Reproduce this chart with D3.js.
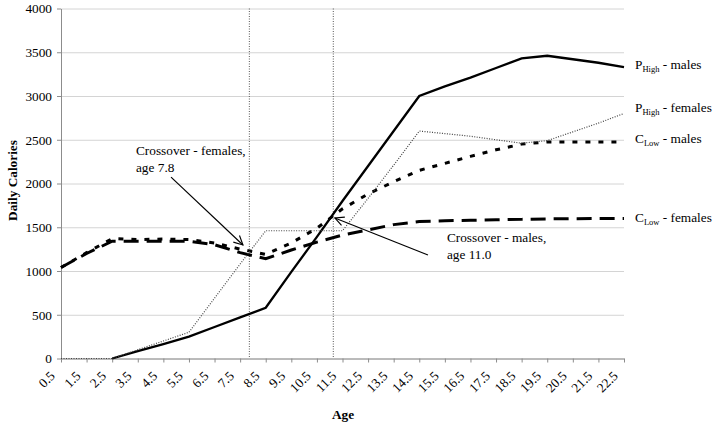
<!DOCTYPE html>
<html>
<head>
<meta charset="utf-8">
<script src="https://cdn.jsdelivr.net/npm/d3@7"></script>
<style>
  body { margin: 0; background: #fff; }
  svg text { font-family: "Liberation Serif", "Times New Roman", Times, serif; fill: #000; }
</style>
</head>
<body>
<svg width="716" height="424" font-family="Liberation Serif, Times New Roman, serif"></svg>
<script>
// Ages on the x axis (tick labels)
var ages = [0.5, 1.5, 2.5, 3.5, 4.5, 5.5, 6.5, 7.5, 8.5, 9.5, 10.5, 11.5,
            12.5, 13.5, 14.5, 15.5, 16.5, 17.5, 18.5, 19.5, 20.5, 21.5, 22.5];

// Daily calories, one value per age
var pHighMales   = [null, null, 0, 85, 165, 250, 360, 470, 580, 990, 1390, 1800,
                    2200, 2600, 3000, 3110, 3210, 3320, 3430, 3460, 3420, 3380, 3330];
var pHighFemales = [0, 0, 0, 100, 200, 300, 690, 1080, 1460, 1460, 1460, 1460,
                    1830, 2210, 2600, 2570, 2540, 2500, 2460, 2490, 2590, 2690, 2800];
var cLowMales    = [1040, 1210, 1370, 1360, 1365, 1360, 1320, 1250, 1190, 1320, 1490, 1710,
                    1880, 2020, 2150, 2230, 2310, 2385, 2450, 2475, 2475, 2475, 2475];
var cLowFemales  = [1040, 1200, 1340, 1340, 1340, 1340, 1300, 1210, 1140, 1240, 1330, 1410,
                    1470, 1530, 1565, 1575, 1580, 1585, 1590, 1595, 1598, 1600, 1600];

var yTicks = [0, 500, 1000, 1500, 2000, 2500, 3000, 3500, 4000];

// Crossover ages (vertical dotted lines)
var crossAges = [7.86, 11.14];

// Series labels at the right: main letter, subscript, rest, label height (calories)
var seriesNames = ["P", "P", "C", "C"];
var seriesSubs  = ["High", "High", "Low", "Low"];
var seriesRest  = [" - males", " - females", " - males", " - females"];
var labelValues = [3366, 2878, 2520, 1620];

// Callouts: text position and arrow tail/head in (age, calories)
var calloutLines = [["Crossover - females,", "age 7.8"], ["Crossover - males,", "age 11.0"]];
var calloutText  = [[3.43, 2323], [15.58, 1326]];
var calloutTail  = [[4.8, 2073], [14.84, 1183]];
var calloutHead  = [[7.61, 1297], [11.2, 1606]];

var FONT = "Liberation Serif, Times New Roman, serif";
var FS = "13.3px";

var svg = d3.select("svg"),
    margin = {top: 8.5, left: 61, right: 92, bottom: 65.5},
    width = +svg.attr("width") - margin.left - margin.right,
    height = +svg.attr("height") - margin.top - margin.bottom;

var g = svg.append("g").attr("transform", "translate(" + margin.left + "," + margin.top + ")");

var x = d3.scaleLinear().domain([0.5, 22.5]).range([0, width]);
var y = d3.scaleLinear().domain([0, 4000]).range([height, 0]);

// gridlines
g.append("g")
    .call(d3.axisLeft(y).tickValues(yTicks).tickSize(-width).tickFormat(""))
    .call(function(s) {
        s.select(".domain").remove();
        s.selectAll("line").attr("stroke", "#d4d4d4");
    });

// y axis
g.append("g")
    .call(d3.axisLeft(y).tickValues(yTicks).tickSize(4).tickSizeOuter(0).tickPadding(5)
        .tickFormat(d3.format("d")))
    .attr("font-family", FONT)
    .attr("font-size", FS)
    .call(function(s) {
        s.select(".domain").attr("stroke", "#8c8c8c");
        s.selectAll("line").attr("stroke", "#8c8c8c");
    });

// x axis
g.append("g")
    .attr("transform", "translate(0," + height + ")")
    .call(d3.axisBottom(x).tickValues(ages).tickSize(4).tickSizeOuter(0).tickFormat(d3.format(".1f")))
    .attr("font-family", FONT)
    .attr("font-size", FS)
    .call(function(s) {
        s.select(".domain").attr("stroke", "#8c8c8c");
        s.selectAll("line").attr("stroke", "#8c8c8c");
        s.selectAll("text")
            .attr("x", 0)
            .attr("y", 0)
            .attr("text-anchor", "end")
            .attr("dy", "0.35em")
            .attr("transform", "translate(-9,15) rotate(-45)");
    });

// vertical crossover lines
g.selectAll(".cross")
    .data(crossAges)
    .enter()
    .append("line")
    .attr("x1", function(d) { return x(d); })
    .attr("x2", function(d) { return x(d); })
    .attr("y1", 0)
    .attr("y2", height)
    .attr("stroke", "#555")
    .attr("stroke-width", 1)
    .style("stroke-dasharray", "1,1.5");

var line = d3.line()
    .defined(function(d) { return d[1] != null; })
    .x(function(d) { return x(d[0]); })
    .y(function(d) { return y(d[1]); });

function pairs(vals) { return ages.map(function(a, i) { return [a, vals[i]]; }); }

var series = [
    {vals: cLowFemales,  stroke: "#000", w: 3,   dash: "15,8"},
    {vals: cLowMales,    stroke: "#000", w: 3,   dash: "5,8"},
    {vals: pHighMales,   stroke: "#000", w: 2.3, dash: null},
    {vals: pHighFemales, stroke: "#444", w: 1.2, dash: "1,1.5"}
];

g.selectAll(".series")
    .data(series)
    .enter()
    .append("path")
    .attr("fill", "none")
    .attr("stroke", function(d) { return d.stroke; })
    .attr("stroke-width", function(d) { return d.w; })
    .style("stroke-dasharray", function(d) { return d.dash; })
    .attr("d", function(d) { return line(pairs(d.vals)); });

// series labels
var lab = g.selectAll(".lab")
    .data(labelValues)
    .enter()
    .append("text")
    .attr("x", width + 11)
    .attr("y", function(d) { return y(d) + 5; })
    .attr("font-family", FONT)
    .style("font-size", FS);
lab.append("tspan").text(function(d, i) { return seriesNames[i]; });
lab.append("tspan").attr("dy", 3).style("font-size", "8.5px").text(function(d, i) { return seriesSubs[i]; });
lab.append("tspan").attr("dy", -3).text(function(d, i) { return seriesRest[i]; });

// arrows
svg.append("defs").append("marker")
    .attr("id", "arr")
    .attr("viewBox", "-10 -6 12 12")
    .attr("markerWidth", 12).attr("markerHeight", 12)
    .attr("markerUnits", "userSpaceOnUse")
    .attr("orient", "auto")
    .append("path")
    .attr("d", "M-9,-4.5 L0,0 L-9,4.5")
    .attr("fill", "none")
    .attr("stroke", "#000")
    .attr("stroke-width", 1.1);

g.selectAll(".arrow")
    .data(calloutTail)
    .enter()
    .append("line")
    .attr("x1", function(d) { return x(d[0]); })
    .attr("y1", function(d) { return y(d[1]); })
    .attr("x2", function(d, i) { return x(calloutHead[i][0]); })
    .attr("y2", function(d, i) { return y(calloutHead[i][1]); })
    .attr("stroke", "#000")
    .attr("stroke-width", 1.2)
    .attr("marker-end", "url(#arr)");

// callout text
var ct = g.selectAll(".callout")
    .data(calloutText)
    .enter()
    .append("text")
    .attr("x", function(d) { return x(d[0]); })
    .attr("y", function(d) { return y(d[1]); })
    .attr("font-family", FONT)
    .style("font-size", FS);
ct.selectAll("tspan")
    .data(function(d, i) { return calloutLines[i].map(function(t) { return {t: t, x: x(d[0])}; }); })
    .enter()
    .append("tspan")
    .attr("x", function(d) { return d.x; })
    .attr("dy", function(d, i) { return i ? 16.5 : 0; })
    .text(function(d) { return d.t; });

// axis titles
svg.append("text")
    .attr("transform", "translate(17," + (margin.top + height / 2 - 3) + ") rotate(-90)")
    .attr("text-anchor", "middle")
    .attr("font-family", FONT)
    .style("font-size", FS)
    .style("font-weight", "bold")
    .text("Daily Calories");

svg.append("text")
    .attr("x", margin.left + 282)
    .attr("y", 419)
    .attr("text-anchor", "middle")
    .attr("font-family", FONT)
    .style("font-size", FS)
    .style("font-weight", "bold")
    .text("Age");
</script>
</body>
</html>
